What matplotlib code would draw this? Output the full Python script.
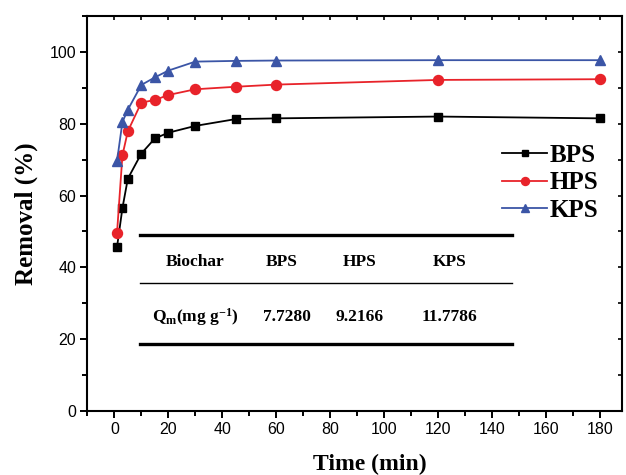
import numpy as np
import matplotlib
matplotlib.use("Agg")
import matplotlib.pyplot as plt
from matplotlib.ticker import MultipleLocator

plt.rcParams['font.family'] = ['Liberation Sans', 'DejaVu Sans']
plt.rcParams['mathtext.fontset'] = 'custom'
plt.rcParams['mathtext.rm'] = 'Liberation Serif:bold'
plt.rcParams['mathtext.it'] = 'Liberation Serif:bold'
plt.rcParams['mathtext.bf'] = 'Liberation Serif:bold'

# data
time = [1, 3, 5, 10, 15, 20, 30, 45, 60, 120, 180]
bps = [45.7, 56.5, 64.7, 71.7, 75.9, 77.5, 79.4, 81.3, 81.5, 82.0, 81.5]
hps = [49.6, 71.2, 77.9, 85.9, 86.6, 88.0, 89.6, 90.3, 90.9, 92.2, 92.4]
kps = [69.6, 80.5, 83.9, 90.8, 92.9, 94.8, 97.3, 97.5, 97.6, 97.7, 97.7]

table_head = ["Biochar", "BPS", "HPS", "KPS"]
table_row = [r"Q$_\mathrm{m}$(mg g$^\mathrm{-1}$)", "7.7280", "9.2166", "11.7786"]

serif_bold = dict(family=['Liberation Serif', 'DejaVu Serif'], weight='bold')

fig = plt.figure(figsize=(6.26, 4.75), dpi=100)
ax = fig.add_axes([0.1395, 0.1347, 0.854, 0.8316])

ax.plot(time, bps, '-s', color='black', lw=1.3, ms=6.2, label='BPS')
ax.plot(time, hps, '-o', color='#e8232a', lw=1.3, ms=7.2, label='HPS')
ax.plot(time, kps, '-^', color='#3b55a6', lw=1.3, ms=7.8, label='KPS')

ax.set_xlim(-10, 188)
ax.set_ylim(0, 110)
ax.xaxis.set_major_locator(MultipleLocator(20))
ax.xaxis.set_minor_locator(MultipleLocator(10))
ax.yaxis.set_major_locator(MultipleLocator(20))
ax.yaxis.set_minor_locator(MultipleLocator(10))
ax.tick_params(which='major', direction='out', length=5, width=1.4, labelsize=11.5, pad=3)
ax.tick_params(which='minor', direction='out', length=3.5, width=1.4)
for s in ax.spines.values():
    s.set_linewidth(1.5)

# short inward ticks on top and right (twin axes, no labels)
axt = ax.twiny()
axt.set_xlim(ax.get_xlim())
axt.xaxis.set_major_locator(MultipleLocator(10))
axt.tick_params(direction='in', length=3, width=1.2, labeltop=False)
axr = ax.twinx()
axr.set_ylim(ax.get_ylim())
axr.yaxis.set_major_locator(MultipleLocator(10))
axr.tick_params(direction='in', length=3, width=1.2, labelright=False)
for a in (axt, axr):
    a.spines[:].set_visible(False)

ax.set_xlabel('Time (min)', fontsize=17, **serif_bold)
ax.xaxis.set_label_coords(0.529, -0.108)
ax.set_ylabel('Removal (%)', fontsize=18, labelpad=8, **serif_bold)

leg = ax.legend(loc='upper left', bbox_to_anchor=(0.753, 0.707), frameon=False,
                prop=dict(family='Liberation Serif', weight='bold', size=18),
                handlelength=1.8, handletextpad=0.1, labelspacing=0.17, borderpad=0,
                markerscale=0.8)

# inset table
x0, x1 = 0.098, 0.794
ax.plot([x0, x1], [0.4456, 0.4456], color='black', lw=2.4, transform=ax.transAxes)
ax.plot([x0, x1], [0.3248, 0.3248], color='black', lw=1.0, transform=ax.transAxes)
ax.plot([x0, x1], [0.1696, 0.1696], color='black', lw=2.4, transform=ax.transAxes)
col_x = [0.2014, 0.364, 0.510, 0.678]
row2_x = [0.2014, 0.373, 0.510, 0.678]
for xc, txt in zip(col_x, table_head):
    ax.text(xc, 0.378, txt, transform=ax.transAxes, ha='center', va='center', fontsize=12.5, **serif_bold)
for xc, txt in zip(row2_x, table_row):
    ax.text(xc, 0.2387, txt, transform=ax.transAxes, ha='center', va='center', fontsize=12.5, **serif_bold)

fig.savefig('out.png', dpi=100)
